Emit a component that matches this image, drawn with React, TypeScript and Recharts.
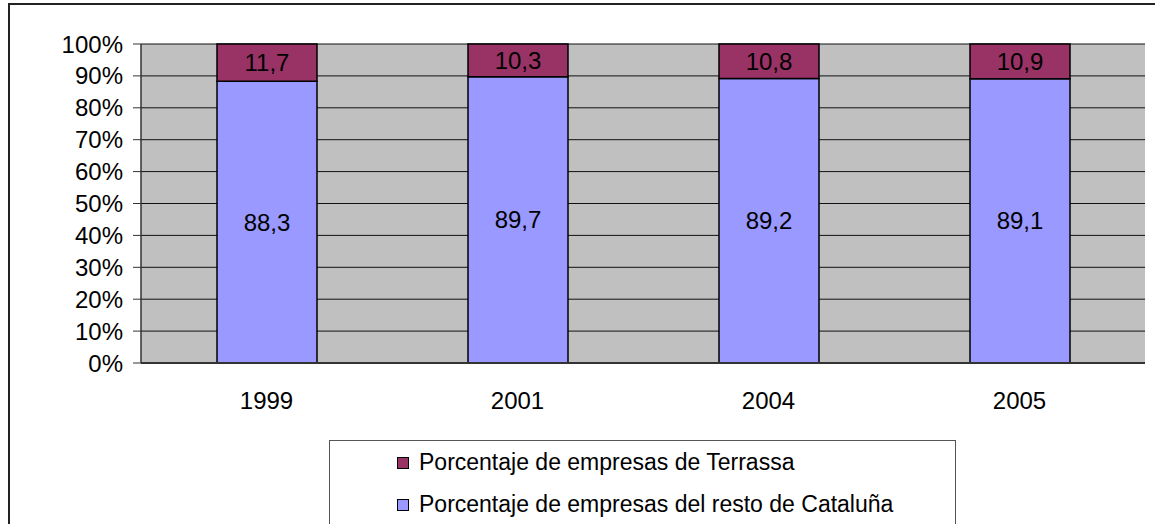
import React from 'react';
import { BarChart, Bar, XAxis, YAxis, CartesianGrid, LabelList } from 'recharts';

const YEARS = ['1999', '2001', '2004', '2005'];
const TERRASSA = [11.7, 10.3, 10.8, 10.9];
const RESTO = [88.3, 89.7, 89.2, 89.1];
const Y_TICKS = [0, 10, 20, 30, 40, 50, 60, 70, 80, 90, 100];

const SERIES = [
  { key: 'terrassa', name: 'Porcentaje de empresas de Terrassa', color: '#993366' },
  { key: 'resto', name: 'Porcentaje de empresas del resto de Cataluña', color: '#9999FF' },
];

const data = YEARS.map((year, i) => ({ year, resto: RESTO[i], terrassa: TERRASSA[i] }));

const FONT = '"Liberation Sans", Arial, sans-serif';
const fmt = (v: any) => String(v).replace('.', ',');

// legend drawn as a plain box under the plot, like the original spreadsheet chart
const LegendBox = () => (
  <div
    style={{
      position: 'absolute',
      left: 329,
      top: 440,
      width: 627,
      height: 120,
      border: '1.5px solid #555',
      background: '#fff',
      boxSizing: 'border-box',
      fontFamily: FONT,
      fontSize: 23,
      color: '#000',
    }}
  >
    {SERIES.map((s) => (
      <div key={s.key} style={{ display: 'flex', alignItems: 'center', height: 42, paddingLeft: 67 }}>
        <span
          style={{
            display: 'inline-block',
            width: 10,
            height: 10,
            background: s.color,
            border: '1px solid #000',
            marginRight: 10,
            marginTop: 1,
          }}
        />
        <span>{s.name}</span>
      </div>
    ))}
  </div>
);

export default function App() {
  return (
    <div style={{ position: 'absolute', left: 0, top: 0, width: 1155, height: 524, overflow: 'hidden', background: '#fff' }}>
      <div
        style={{
          position: 'absolute',
          left: 8,
          top: 3,
          width: 1200,
          height: 600,
          border: '2px solid #222',
        }}
      />
      <div style={{ position: 'absolute', left: 0, top: 0 }}>
        <BarChart
          width={1155}
          height={524}
          data={data}
          margin={{ top: 44, right: 10, bottom: 121, left: 0 }}
          style={{ fontFamily: FONT }}
        >
          <CartesianGrid vertical={false} stroke="#111" strokeWidth={1} fill="#C0C0C0" fillOpacity={1} />
          <XAxis
            dataKey="year"
            height={40}
            axisLine={{ stroke: '#333', strokeWidth: 2 }}
            tickLine={false}
            tick={{ fontSize: 24, fill: '#000', fontFamily: FONT, dy: 21 }}
          />
          <YAxis
            width={141}
            domain={[0, 100]}
            ticks={Y_TICKS}
            interval={0}
            tickFormatter={(v) => `${v}%`}
            axisLine={{ stroke: '#333', strokeWidth: 1.5 }}
            tickLine={{ stroke: '#333' }}
            tickSize={8}
            tick={{ fontSize: 24, fill: '#000', fontFamily: FONT, dx: -8 }}
          />
          <YAxis
            yAxisId="frame"
            orientation="right"
            width={0}
            domain={[0, 100]}
            axisLine={{ stroke: '#808080', strokeWidth: 1.5 }}
            tick={false}
            tickLine={false}
          />
          <Bar dataKey="resto" stackId="a" barSize={100} fill="#9999FF" stroke="#000" strokeWidth={1.5} isAnimationActive={false}>
            <LabelList dataKey="resto" position="center" formatter={fmt} style={{ fontSize: 24, fill: '#000', fontFamily: FONT }} />
          </Bar>
          <Bar dataKey="terrassa" stackId="a" barSize={100} fill="#993366" stroke="#000" strokeWidth={1.5} isAnimationActive={false}>
            <LabelList dataKey="terrassa" position="center" formatter={fmt} style={{ fontSize: 24, fill: '#000', fontFamily: FONT }} />
          </Bar>
        </BarChart>
      </div>
      <LegendBox />
    </div>
  );
}
